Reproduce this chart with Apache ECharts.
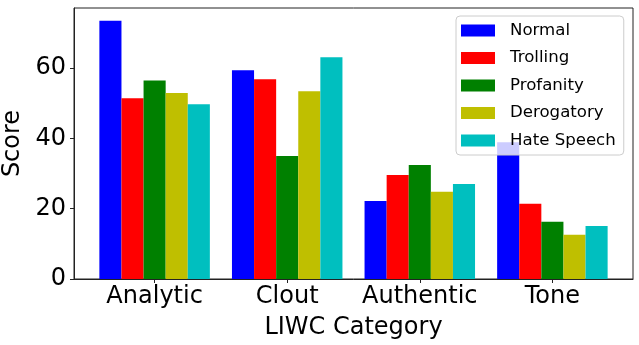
<!DOCTYPE html>
<html>
<head>
<meta charset="utf-8">
<script src="https://cdn.jsdelivr.net/npm/echarts@6/dist/echarts.min.js"></script>
<style>
html,body{margin:0;padding:0;background:#fff;}
#chart{width:639px;height:345px;}
</style>
</head>
<body>
<div id="chart"></div>
<script>
var categories = ['Analytic', 'Clout', 'Authentic', 'Tone'];
var seriesNames = ['Normal', 'Trolling', 'Profanity', 'Derogatory', 'Hate Speech'];
var normal = [73.5, 59.4, 22.2, 38.9];
var trolling = [51.4, 56.8, 29.6, 21.4];
var profanity = [56.5, 35.0, 32.4, 16.3];
var derogatory = [52.9, 53.4, 24.8, 12.6];
var hateSpeech = [49.7, 63.1, 27.0, 15.1];
var yTicks = [0, 20, 40, 60];

var allValues = [normal, trolling, profanity, derogatory, hateSpeech];
var colors = ['#0000ff', '#ff0000', '#008000', '#bfbf00', '#00bfbf'];
var FONT = 'DejaVu Sans';

var chart = echarts.init(document.getElementById('chart'), null, {renderer: 'canvas'});
var catIdx = categories.map(function (c, i) { return i; });

var series = allValues.map(function (vals, s) {
  return {
    name: seriesNames[s],
    type: 'bar',
    data: vals.map(function (v, i) { return [i, v]; }),
    itemStyle: {color: colors[s]},
    barGap: '0%',
    barCategoryGap: '16.667%',
    emphasis: {disabled: true}
  };
});

chart.setOption({
  animation: false,
  grid: {left: 74, right: 6, top: 8, bottom: 66, show: true, borderColor: '#222', borderWidth: 1,
    containLabel: false, outerBoundsMode: 'none'},
  legend: {
    orient: 'vertical', left: 456, top: 16,
    padding: [6, 8, 6, 5],
    itemWidth: 34, itemHeight: 12, itemGap: 10.5,
    icon: 'rect',
    backgroundColor: 'rgba(255,255,255,0.8)',
    borderColor: '#cccccc', borderWidth: 1, borderRadius: 4,
    textStyle: {fontFamily: FONT, fontSize: 16.6, lineHeight: 16, color: '#000', padding: [0, 0, 0, 10]},
    data: seriesNames
  },
  xAxis: {
    type: 'value', min: -0.608, max: 3.608,
    name: 'LIWC Category', nameLocation: 'middle', nameGap: 37,
    nameTextStyle: {fontFamily: FONT, fontSize: 24, color: '#000'},
    axisLine: {show: true, onZero: false, lineStyle: {color: '#222', width: 1}},
    axisTick: {show: true, length: 4, lineStyle: {color: '#222'}, customValues: catIdx},
    axisLabel: {show: true, margin: 6, fontFamily: FONT, fontSize: 24, color: '#000', customValues: catIdx,
      formatter: function (v) { return categories[Math.round(v)]; }},
    splitLine: {show: false}
  },
  yAxis: {
    type: 'value', min: 0, max: 77.1,
    name: 'Score', nameLocation: 'middle', nameGap: 45, nameRotate: 90,
    nameTextStyle: {fontFamily: FONT, fontSize: 24, color: '#000'},
    axisLine: {show: true, onZero: false, lineStyle: {color: '#222', width: 1}},
    axisTick: {show: true, length: 4, lineStyle: {color: '#222'}, customValues: yTicks},
    axisLabel: {show: true, margin: 8, fontFamily: FONT, fontSize: 24, color: '#000', customValues: yTicks},
    splitLine: {show: false}
  },
  series: series
});
</script>
</body>
</html>
